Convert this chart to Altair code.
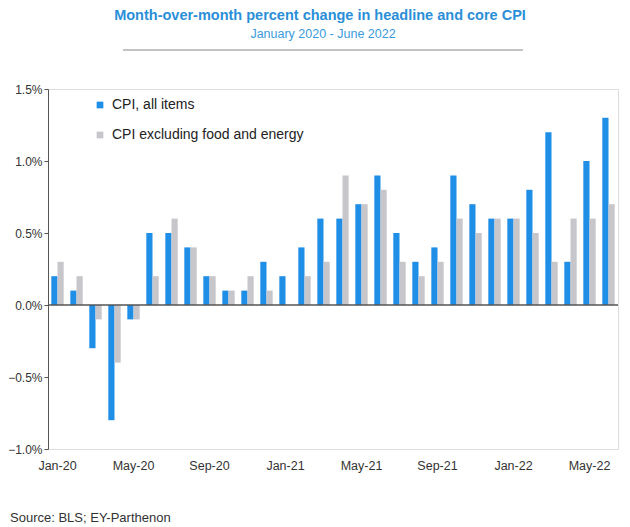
import altair as alt
import pandas as pd

months = ["Jan-20", "Feb-20", "Mar-20", "Apr-20", "May-20", "Jun-20", "Jul-20", "Aug-20",
          "Sep-20", "Oct-20", "Nov-20", "Dec-20", "Jan-21", "Feb-21", "Mar-21", "Apr-21",
          "May-21", "Jun-21", "Jul-21", "Aug-21", "Sep-21", "Oct-21", "Nov-21", "Dec-21",
          "Jan-22", "Feb-22", "Mar-22", "Apr-22", "May-22", "Jun-22"]
cpi_all = [0.2, 0.1, -0.3, -0.8, -0.1, 0.5, 0.5, 0.4, 0.2, 0.1, 0.1, 0.3, 0.2, 0.4, 0.6,
           0.6, 0.7, 0.9, 0.5, 0.3, 0.4, 0.9, 0.7, 0.6, 0.6, 0.8, 1.2, 0.3, 1.0, 1.3]
cpi_core = [0.3, 0.2, -0.1, -0.4, -0.1, 0.2, 0.6, 0.4, 0.2, 0.1, 0.2, 0.1, 0.0, 0.2, 0.3,
            0.9, 0.7, 0.8, 0.3, 0.2, 0.3, 0.6, 0.5, 0.6, 0.6, 0.5, 0.3, 0.6, 0.6, 0.7]
series_names = ["CPI, all items", "CPI excluding food and energy"]
series_colors = ["#1f8ee6", "#c6c6cb"]
shown_months = ["Jan-20", "May-20", "Sep-20", "Jan-21", "May-21", "Sep-21", "Jan-22", "May-22"]
y_ticks = [-1.0, -0.5, 0.0, 0.5, 1.0, 1.5]

title_text = "Month-over-month percent change in headline and core CPI"
subtitle_text = "January 2020 - June 2022"
source_text = "Source: BLS; EY-Parthenon"

rows = []
for m, a, c in zip(months, cpi_all, cpi_core):
    rows.append({"month": m, "series": series_names[0], "value": a})
    rows.append({"month": m, "series": series_names[1], "value": c})
df = pd.DataFrame(rows)

FONT = "Liberation Sans"
LEFT = 40
TOP = 81
W, H = 570, 360

bars = alt.Chart(df).mark_bar().encode(
    x=alt.X("month:N", sort=months,
            scale=alt.Scale(paddingInner=0.35, paddingOuter=0.175),
            axis=alt.Axis(values=shown_months, title=None, labelAngle=0, domain=False,
                          ticks=False, labelPadding=10, labelFontSize=12.5,
                          labelColor="#333", labelFont=FONT)),
    xOffset=alt.XOffset("series:N", sort=series_names),
    y=alt.Y("value:Q", scale=alt.Scale(domain=[-1.0, 1.5], nice=False),
            axis=alt.Axis(values=y_ticks, title=None, grid=False,
                          labelExpr="format(datum.value, '.1f') + '%'",
                          domainColor="#555", tickColor="#555", tickSize=4,
                          labelPadding=2, labelFontSize=12, labelColor="#333",
                          labelFont=FONT)),
    color=alt.Color("series:N", sort=series_names,
                    scale=alt.Scale(domain=series_names, range=series_colors),
                    legend=alt.Legend(title=None, orient="none", legendX=93 - 8 - LEFT,
                                      legendY=9, symbolType="square", symbolSize=45,
                                      symbolStrokeWidth=0, labelFontSize=14,
                                      labelFont=FONT, labelColor="#222", labelLimit=0,
                                      rowPadding=16, labelOffset=5, padding=0)),
)

zero = alt.Chart(pd.DataFrame({"v": [0]})).mark_rule(color="#555", strokeWidth=1.3).encode(
    y="v:Q"
)

title = alt.Chart(pd.DataFrame({"t": [title_text]})).mark_text(
    font=FONT, fontSize=14.5, fontWeight="bold", color="#2a8fd8", align="center",
    baseline="middle"
).encode(text="t:N", x=alt.value(320 - 8 - LEFT), y=alt.value(16 - 8 - TOP))

subtitle = alt.Chart(pd.DataFrame({"t": [subtitle_text]})).mark_text(
    font=FONT, fontSize=12.5, color="#3a9bdc", align="center", baseline="middle"
).encode(text="t:N", x=alt.value(323 - 8 - LEFT), y=alt.value(34 - 8 - TOP))

title_line = alt.Chart(pd.DataFrame({"t": [0]})).mark_rule(color="#888", strokeWidth=1.2).encode(
    x=alt.value(123 - 8 - LEFT), x2=alt.value(523 - 8 - LEFT), y=alt.value(50 - 8 - TOP)
)

source = alt.Chart(pd.DataFrame({"t": [source_text]})).mark_text(
    font=FONT, fontSize=13, color="#333", align="left", baseline="middle"
).encode(text="t:N", x=alt.value(10 - 8 - LEFT), y=alt.value(518 - 8 - TOP))

chart = alt.layer(bars, zero, title, subtitle, title_line, source).properties(
    width=W, height=H,
    autosize=alt.AutoSizeParams(type="none"),
    padding={"left": LEFT, "top": TOP, "right": 4, "bottom": 76},
).configure_view(stroke=None).configure(background="white")

chart.save("out.html", embed_options={"renderer": "svg", "actions": False})
